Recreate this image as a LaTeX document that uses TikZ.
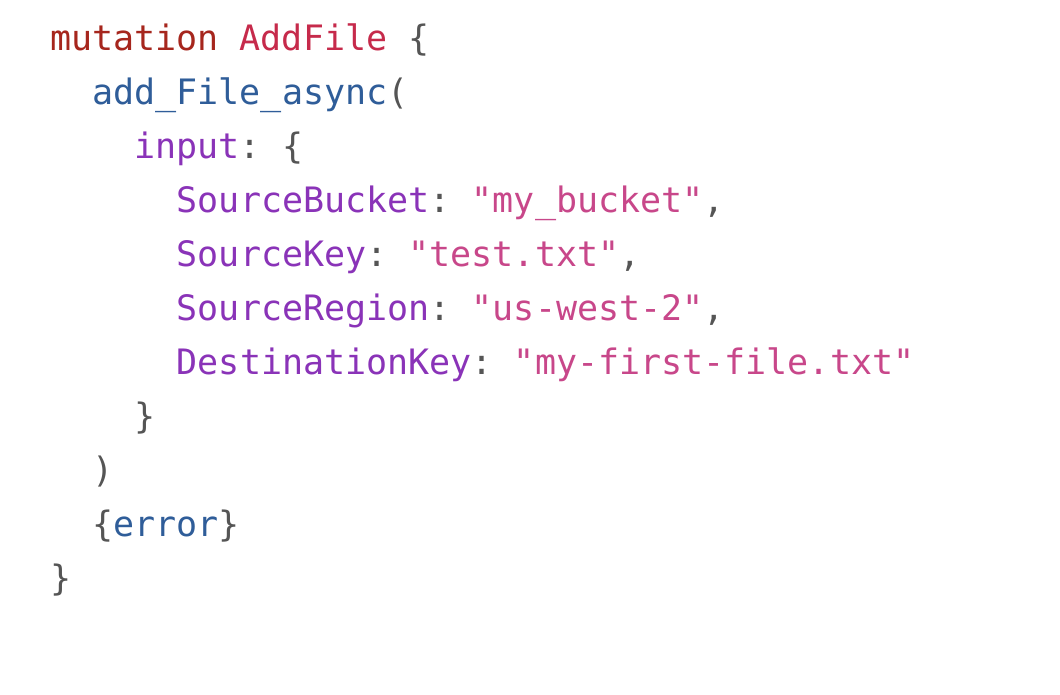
\documentclass[tikz,border=0pt]{standalone}
\usepackage{fontspec}
\setmonofont{DejaVu Sans Mono}
\definecolor{kw}{HTML}{A6261D}
\definecolor{opn}{HTML}{C62A4B}
\definecolor{fld}{HTML}{2F5D99}
\definecolor{arg}{HTML}{8A33B8}
\definecolor{str}{HTML}{C8478A}
\definecolor{pun}{HTML}{555555}
\begin{document}
\begin{tikzpicture}[x=1pt,y=-1pt,
  codeline/.style={anchor=base west,inner sep=0pt,font=\fontsize{35}{35}\selectfont\ttfamily}]
\useasboundingbox (0,0) rectangle (1060,694);
\fill[white] (0,0) rectangle (1060,694);
\def\ch{21.1}
\node[codeline] (l1) at (50,50) {\textcolor{kw}{mutation} \textcolor{opn}{AddFile} \textcolor{pun}{\{}};
\node[codeline] (l2) at (50+2*\ch,104) {\textcolor{fld}{add\_File\_async}\textcolor{pun}{(}};
\node[codeline] (l3) at (50+4*\ch,158) {\textcolor{arg}{input}\textcolor{pun}{: \{}};
\node[codeline] (l4) at (50+6*\ch,212) {\textcolor{arg}{SourceBucket}\textcolor{pun}{: }\textcolor{str}{"my\_bucket"}\textcolor{pun}{,}};
\node[codeline] (l5) at (50+6*\ch,266) {\textcolor{arg}{SourceKey}\textcolor{pun}{: }\textcolor{str}{"test.txt"}\textcolor{pun}{,}};
\node[codeline] (l6) at (50+6*\ch,320) {\textcolor{arg}{SourceRegion}\textcolor{pun}{: }\textcolor{str}{"us-west-2"}\textcolor{pun}{,}};
\node[codeline] (l7) at (50+6*\ch,374) {\textcolor{arg}{DestinationKey}\textcolor{pun}{: }\textcolor{str}{"my-first-file.txt"}};
\node[codeline] (l8) at (50+4*\ch,428) {\textcolor{pun}{\}}};
\node[codeline] (l9) at (50+2*\ch,482) {\textcolor{pun}{)}};
\node[codeline] (l10) at (50+2*\ch,536) {\textcolor{pun}{\{}\textcolor{fld}{error}\textcolor{pun}{\}}};
\node[codeline] (l11) at (50,590) {\textcolor{pun}{\}}};
\end{tikzpicture}
\end{document}
